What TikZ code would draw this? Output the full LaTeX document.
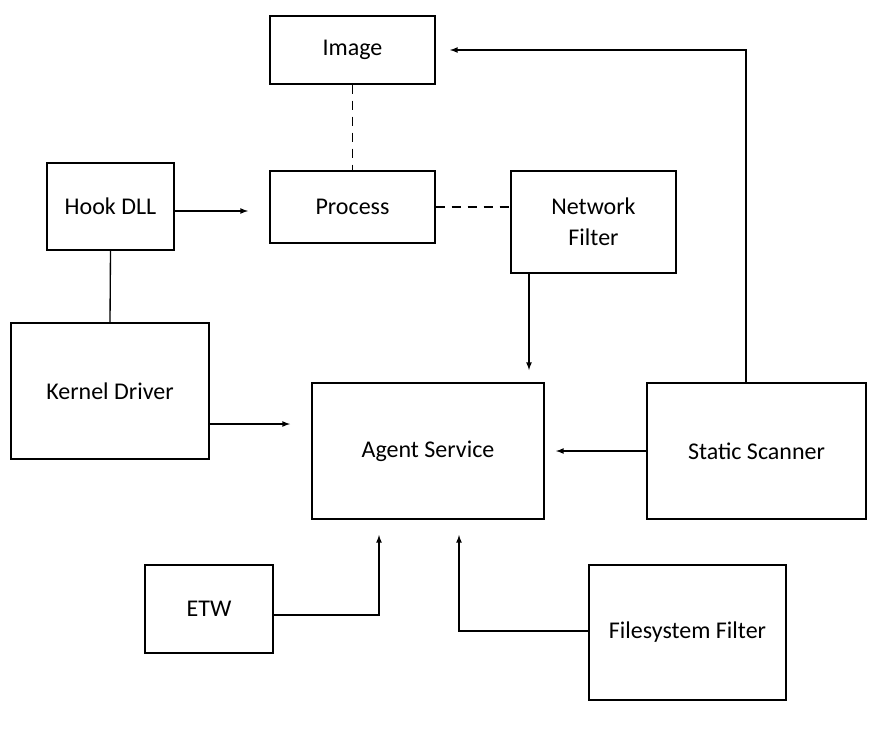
\documentclass[tikz,border=0pt]{standalone}
\usepackage{fontspec}
\setmainfont{Carlito}
\begin{document}
\begin{tikzpicture}[x=0.75pt,y=-0.75pt,
  box/.style={draw,line width=1pt,align=center,font=\fontsize{18}{23}\selectfont,inner sep=0pt},
  arr/.style={-latex,line width=1pt},
  ln/.style={line width=1pt},
  dsh/.style={line width=1pt,dash pattern=on 7pt off 5pt}]
\useasboundingbox (0,0) rectangle (877,728);
\node[box,minimum width=165*0.75pt,minimum height=68*0.75pt] (img) at (352.5,50) {Image};
\node[box,minimum width=127*0.75pt,minimum height=87*0.75pt] (hook) at (110.5,206.5) {Hook DLL};
\node[box,minimum width=165*0.75pt,minimum height=72*0.75pt] (proc) at (352.5,207) {Process};
\node[box,minimum width=165*0.75pt,minimum height=102*0.75pt] (net) at (593.5,222) {Network\\Filter};
\node[box,minimum width=198*0.75pt,minimum height=136*0.75pt] (kern) at (110,391) {Kernel Driver};
\node[box,minimum width=232*0.75pt,minimum height=136*0.75pt] (agent) at (428,451) {Agent Service};
\node[box,minimum width=219*0.75pt,minimum height=136*0.75pt] (stat) at (756.5,451) {Static Scanner};
\node[box,minimum width=128*0.75pt,minimum height=88*0.75pt] (etw) at (209,609) {ETW};
\node[box,minimum width=197*0.75pt,minimum height=135*0.75pt] (fs) at (687.5,632.5) {Filesystem Filter};
\coordinate (e1) at (248,211);
\coordinate (e2) at (290,424);
\coordinate (e3) at (529,370);
\coordinate (e4) at (556,451);
\coordinate (e5) at (450,50);
\coordinate (e6) at (379,535);
\coordinate (e7) at (459,535);
\coordinate (s1) at (746,383);
\draw[dsh] (img.south) -- (proc.north);
\draw[dsh] (proc.east) -- (net.west |- proc.east);
\draw[ln] (hook.south) -- (kern.north);
\draw[arr] (hook.east |- e1) -- (e1);
\draw[arr] (kern.east |- e2) -- (e2);
\draw[arr] (net.south -| e3) -- (e3);
\draw[arr] (stat.west |- e4) -- (e4);
\draw[arr] (stat.north -| s1) |- (e5);
\draw[arr] (etw.east |- 0,615) -| (e6);
\draw[arr] (fs.west |- 0,631) -| (e7);
\end{tikzpicture}
\end{document}
